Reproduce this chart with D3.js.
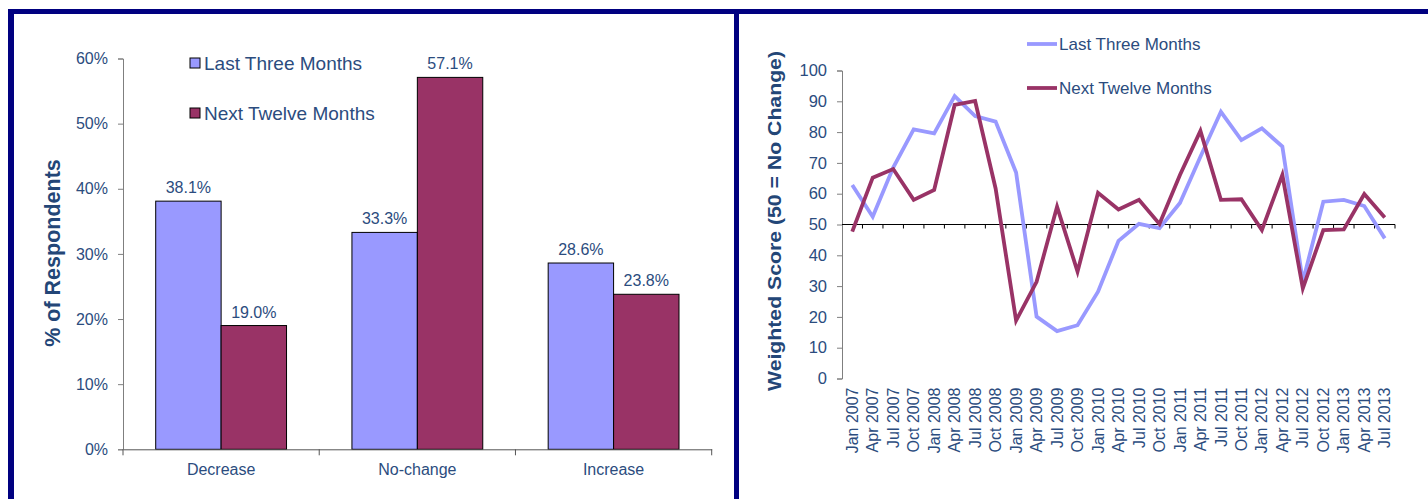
<!DOCTYPE html>
<html>
<head>
<meta charset="utf-8">
<script src="https://cdn.jsdelivr.net/npm/d3@7"></script>
<style>
  body { margin: 0; background: #fff; }
  svg { display: block; font-family: Arial, "Liberation Sans", sans-serif; }
</style>
</head>
<body>
<div id="chart"></div>
<script>
// survey responses (left panel)
const categories = ["Decrease", "No-change", "Increase"];
const seriesNames = ["Last Three Months", "Next Twelve Months"];
const lastThree = [38.1, 33.3, 28.6];
const nextTwelve = [19.0, 57.1, 23.8];
const pctTicks = [0, 10, 20, 30, 40, 50, 60];

// weighted score over time (right panel)
const quarters = [
  "Jan 2007", "Apr 2007", "Jul 2007", "Oct 2007",
  "Jan 2008", "Apr 2008", "Jul 2008", "Oct 2008",
  "Jan 2009", "Apr 2009", "Jul 2009", "Oct 2009",
  "Jan 2010", "Apr 2010", "Jul 2010", "Oct 2010",
  "Jan 2011", "Apr 2011", "Jul 2011", "Oct 2011",
  "Jan 2012", "Apr 2012", "Jul 2012", "Oct 2012",
  "Jan 2013", "Apr 2013", "Jul 2013"
];
const scoreLast = [62.8, 52.5, 68.5, 80.9, 79.6, 91.7, 85.2, 83.4, 66.9, 20.1, 15.4, 17.3,
  28.2, 44.7, 50.2, 48.8, 57.0, 72.0, 86.6, 77.4, 81.2, 75.3, 31.5, 57.4, 58.0, 56.0, 45.5];
const scoreNext = [47.7, 65.2, 68.0, 58.0, 61.2, 88.8, 90.1, 61.7, 18.8, 31.4, 55.8, 34.7,
  60.3, 54.9, 58.0, 50.2, 66.1, 80.4, 58.0, 58.2, 48.2, 66.1, 29.3, 48.2, 48.4, 59.9, 52.3];
const scoreTicks = [0, 10, 20, 30, 40, 50, 60, 70, 80, 90, 100];

const W = 1428, H = 499;
const textColor = "#2b4c7e";
const titleColor = "#234677";
const colors = ["#9999ff", "#993366"];

const svg = d3.select("#chart").append("svg")
  .attr("width", W).attr("height", H);

// panel frames
const navy = "#000080";
svg.append("rect").attr("x", 8).attr("y", 9).attr("width", W - 8).attr("height", 5).attr("fill", navy);
svg.append("rect").attr("x", 8).attr("y", 9).attr("width", 6).attr("height", H).attr("fill", navy);
svg.append("rect").attr("x", 734).attr("y", 9).attr("width", 5).attr("height", H).attr("fill", navy);

// ---------- left: grouped bars ----------
const x0 = d3.scaleBand().domain(categories).range([123, 711.7]);
const x1 = d3.scaleBand().domain(seriesNames).range([x0.bandwidth() / 6, x0.bandwidth() * 5 / 6]);
const yL = d3.scaleLinear().domain([0, 60]).range([449.3, 58.5]);

const barData = categories.map((c, i) => ({
  cat: c,
  vals: [{ s: seriesNames[0], v: lastThree[i] }, { s: seriesNames[1], v: nextTwelve[i] }]
}));

const groups = svg.append("g").selectAll("g")
  .data(barData)
  .join("g")
  .attr("transform", d => `translate(${x0(d.cat)},0)`);

groups.selectAll("rect")
  .data(d => d.vals)
  .join("rect")
  .attr("x", d => x1(d.s))
  .attr("y", d => yL(d.v))
  .attr("width", x1.bandwidth())
  .attr("height", d => yL(0) - yL(d.v))
  .attr("fill", (d, i) => colors[i])
  .attr("stroke", "#000")
  .attr("stroke-width", 1);

groups.selectAll("text")
  .data(d => d.vals)
  .join("text")
  .attr("x", d => x1(d.s) + x1.bandwidth() / 2)
  .attr("y", d => yL(d.v) - 8)
  .attr("text-anchor", "middle")
  .attr("font-size", 16)
  .attr("fill", textColor)
  .text(d => d.v.toFixed(1) + "%");

// left y axis
svg.append("g")
  .attr("transform", "translate(123,0)")
  .call(d3.axisLeft(yL).tickValues(pctTicks).tickSize(5).tickPadding(10).tickFormat(d => d + "%"))
  .call(g => g.selectAll("line, path").attr("stroke", "#7f7f7f"))
  .call(g => g.selectAll("text").attr("font-size", 16).attr("fill", textColor).attr("font-family", null));

// left x axis, ticks on category boundaries
svg.append("g")
  .attr("transform", `translate(0,${yL(0)})`)
  .call(d3.axisBottom(x0).tickSize(0).tickPadding(14))
  .call(g => g.select(".domain").attr("stroke", "#555"))
  .call(g => g.selectAll("text").attr("font-size", 16).attr("fill", textColor).attr("font-family", null))
  .call(g => g.selectAll(".bound")
    .data(categories.map(c => x0(c)).concat([x0.range()[1]]))
    .join("line")
    .attr("class", "bound")
    .attr("x1", d => d).attr("x2", d => d)
    .attr("y1", 0).attr("y2", 6)
    .attr("stroke", "#555"));

svg.append("text")
  .attr("transform", "translate(60,253) rotate(-90)")
  .attr("text-anchor", "middle")
  .attr("font-size", 21.5)
  .attr("font-weight", "bold")
  .attr("fill", titleColor)
  .text("% of Respondents");

// left legend
const legL = svg.append("g").selectAll("g")
  .data(seriesNames)
  .join("g")
  .attr("transform", (d, i) => `translate(190,${63 + i * 50})`);
legL.append("rect")
  .attr("x", 0).attr("y", -5).attr("width", 10).attr("height", 10)
  .attr("fill", (d, i) => colors[i]).attr("stroke", "#000");
legL.append("text")
  .attr("x", 14).attr("dy", "0.35em")
  .attr("font-size", 19)
  .attr("fill", textColor)
  .text(d => d);

// ---------- right: lines ----------
const xR = d3.scaleBand().domain(quarters).range([842, 1395]);
const yR = d3.scaleLinear().domain([0, 100]).range([378.5, 70.5]);
const cx = q => xR(q) + xR.bandwidth() / 2;

svg.append("g")
  .attr("transform", "translate(842,0)")
  .call(d3.axisLeft(yR).tickValues(scoreTicks).tickSize(5).tickPadding(10))
  .call(g => g.selectAll("line, path").attr("stroke", "#7f7f7f"))
  .call(g => g.selectAll("text").attr("font-size", 16.5).attr("fill", textColor).attr("font-family", null));

// horizontal axis crossing at 50
const axis50 = svg.append("g").attr("transform", `translate(0,${yR(50)})`);
axis50.append("line")
  .attr("x1", 842).attr("x2", xR.range()[1])
  .attr("stroke", "#000");
axis50.selectAll(".qt")
  .data(quarters.map(q => xR(q)).slice(1).concat([xR.range()[1]]))
  .join("line")
  .attr("class", "qt")
  .attr("x1", d => d).attr("x2", d => d)
  .attr("y1", 0).attr("y2", 4)
  .attr("stroke", "#000");

// quarter labels under the plot
svg.append("g").selectAll("text")
  .data(quarters)
  .join("text")
  .attr("transform", d => `translate(${cx(d)},${yR(0) + 9}) rotate(-90)`)
  .attr("text-anchor", "end")
  .attr("dy", "0.35em")
  .attr("font-size", 16)
  .attr("fill", textColor)
  .text(d => d);

const line = d3.line()
  .x(d => cx(d.q))
  .y(d => yR(d.v));

const lineSeries = [scoreLast, scoreNext].map(arr => arr.map((v, i) => ({ q: quarters[i], v })));
svg.append("g").selectAll("path")
  .data(lineSeries)
  .join("path")
  .attr("d", line)
  .attr("fill", "none")
  .attr("stroke", (d, i) => colors[i])
  .attr("stroke-width", 3.8)
  .attr("stroke-linejoin", "miter");

svg.append("text")
  .attr("transform", "translate(781,221) rotate(-90)")
  .attr("text-anchor", "middle")
  .attr("font-size", 18)
  .attr("font-weight", "bold")
  .attr("fill", titleColor)
  .attr("textLength", 340)
  .attr("lengthAdjust", "spacingAndGlyphs")
  .text("Weighted Score (50 = No Change)");

// right legend
const legR = svg.append("g").selectAll("g")
  .data(seriesNames)
  .join("g")
  .attr("transform", (d, i) => `translate(1027,${44 + i * 44})`);
legR.append("line")
  .attr("x1", 0).attr("x2", 30)
  .attr("stroke", (d, i) => colors[i])
  .attr("stroke-width", 3.8);
legR.append("text")
  .attr("x", 32).attr("dy", "0.35em")
  .attr("font-size", 17)
  .attr("fill", textColor)
  .text(d => d);
</script>
</body>
</html>
